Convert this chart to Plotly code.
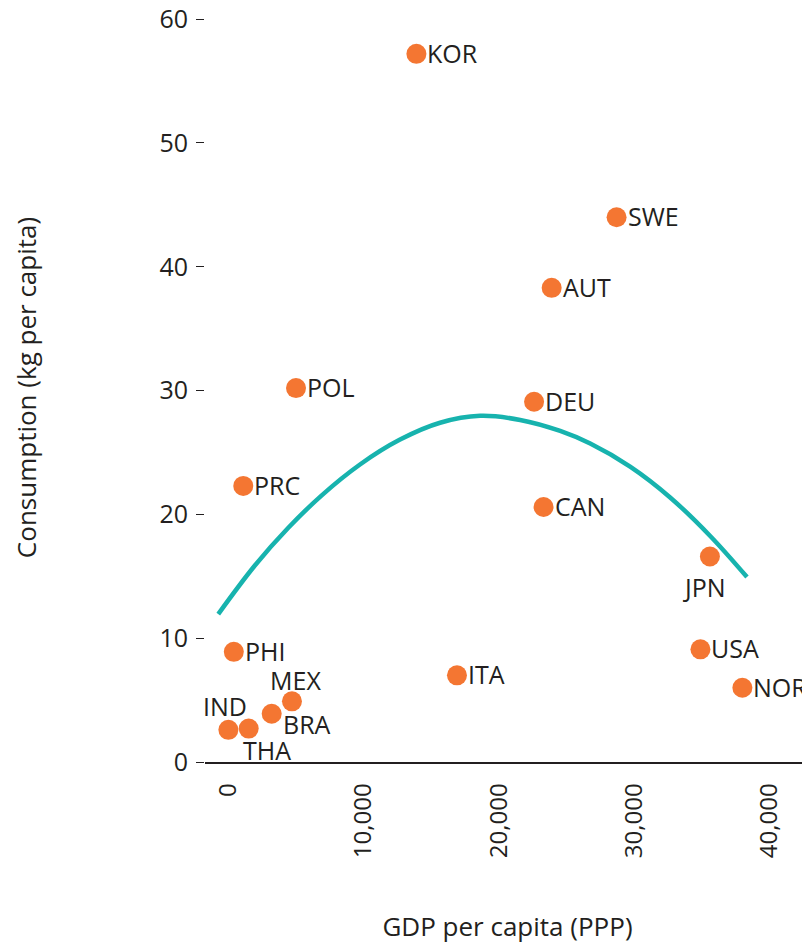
import plotly.graph_objects as go

countries = ["KOR", "SWE", "AUT", "POL", "DEU", "PRC", "CAN", "JPN",
             "PHI", "ITA", "USA", "NOR", "MEX", "BRA", "THA", "IND"]
gdp = [13900, 28700, 23900, 5000, 22600, 1100, 23300, 35600,
       400, 16900, 34900, 38000, 4700, 3200, 1500, 0]
consumption = [57.2, 44.0, 38.3, 30.2, 29.1, 22.3, 20.6, 16.6,
               8.9, 7.0, 9.1, 6.0, 4.9, 3.9, 2.7, 2.6]

# trend curve
curve_x = [-750, 1970, 4430, 6900, 9730, 12690, 15650, 18610,
           21570, 24530, 26750, 29700, 32660, 35620, 38340]
curve_y = [11.95, 15.89, 18.92, 21.54, 24.03, 26.04, 27.40, 27.96,
           27.63, 26.74, 25.72, 23.86, 21.37, 18.26, 14.94]

# where each country label sits next to its dot (default: right)
placements = {
    "right": ("left", "middle", 9, 1),
    "below": ("center", "top", -5, -12),
    "above": ("center", "bottom", -3, 5),
    "above_r": ("center", "bottom", 4, 2),
    "below_r": ("left", "middle", 9, -10),
    "under_r": ("center", "middle", 18, -21),
}
label_side = {"JPN": "below", "IND": "above", "MEX": "above_r",
              "BRA": "below_r", "THA": "under_r"}

ink = "#231F20"
font = "Open Sans"

fig = go.Figure()
fig.add_trace(go.Scatter(
    x=curve_x, y=curve_y, mode="lines", line_shape="spline",
    line=dict(color="#17B3AE", width=4.5), hoverinfo="skip", showlegend=False,
))
fig.add_trace(go.Scatter(
    x=gdp, y=consumption, mode="markers",
    marker=dict(color="#F47632", size=20), cliponaxis=False, showlegend=False,
))

for name, gx, cy in zip(countries, gdp, consumption):
    xa, ya, dx, dy = placements[label_side.get(name, "right")]
    fig.add_annotation(
        x=gx, y=cy, text=name, showarrow=False,
        xanchor=xa, yanchor=ya, xshift=dx, yshift=dy,
        font=dict(family=font, size=25, color=ink),
    )

fig.update_layout(
    width=802, height=936,
    margin=dict(l=197, r=0, t=5, b=182),
    plot_bgcolor="white", paper_bgcolor="white",
    font=dict(family=font, size=24, color=ink),
)
fig.update_xaxes(
    range=[-1730, 43000], tickvals=[0, 10000, 20000, 30000, 40000],
    ticktext=["0", "10,000", "20,000", "30,000", "40,000"],
    tickangle=-90, showgrid=False, zeroline=False,
    showline=True, linecolor=ink, linewidth=1.5, ticks="",
    ticklabelstandoff=10, tickfont=dict(size=24), automargin=False,
    title=dict(text="GDP per capita (PPP)", standoff=62, font=dict(size=26)),
)
fig.update_yaxes(
    range=[0, 60.5], tickvals=[0, 10, 20, 30, 40, 50, 60],
    showgrid=False, zeroline=False, showline=False,
    ticks="outside", ticklen=8, tickwidth=1, tickcolor=ink,
    ticklabelstandoff=3, ticklabeloverflow="allow", tickfont=dict(size=25),
    automargin=False,
    title=dict(text="Consumption (kg per capita)", standoff=121, font=dict(size=26)),
)

fig.write_html("out.html")
